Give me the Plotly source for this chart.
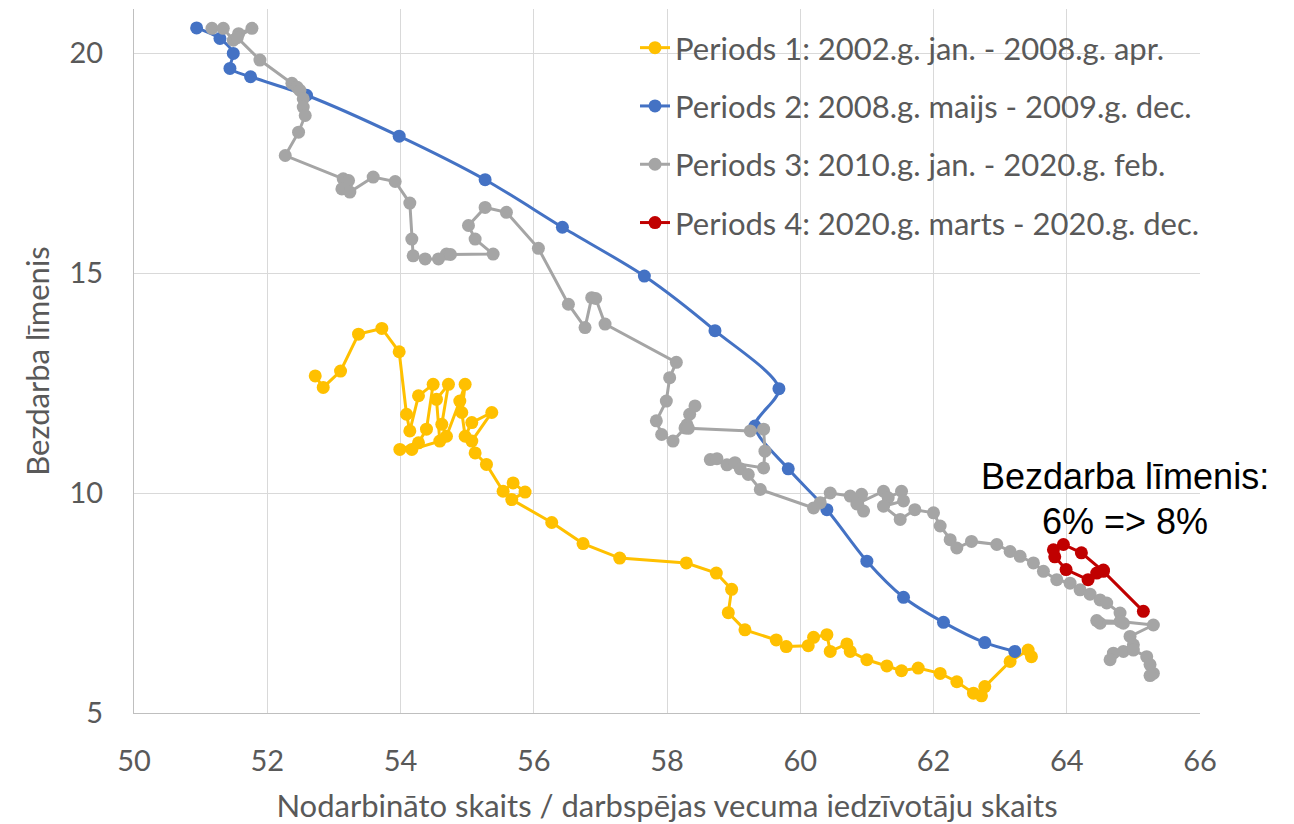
import plotly.graph_objects as go

# ---- Data ----
p1_x = [52.72, 52.84, 53.10, 53.37, 53.72, 53.98, 54.09, 54.14, 54.27, 54.49, 54.39, 54.27,
        53.99, 54.17, 54.59, 54.54, 54.72, 54.62, 54.69, 54.89, 54.97, 54.92, 54.97, 55.07,
        55.37, 55.07, 55.12, 55.29, 55.54, 55.69, 55.87, 55.67, 56.27, 56.74, 57.29, 58.29,
        58.74, 58.97, 58.92, 59.17, 59.64, 59.79, 60.12, 60.20, 60.40, 60.45, 60.70, 60.75,
        61.00, 61.30, 61.52, 61.77, 62.10, 62.35, 62.60, 62.72, 62.77, 63.15, 63.42, 63.47]
p1_y = [12.66, 12.40, 12.77, 13.61, 13.74, 13.21, 11.79, 11.41, 12.21, 12.47, 11.45, 11.14,
        10.99, 10.99, 11.18, 12.13, 12.47, 11.56, 11.29, 12.09, 12.47, 11.83, 11.29, 11.60,
        11.83, 11.18, 10.91, 10.65, 10.04, 10.23, 10.02, 9.85, 9.33, 8.85, 8.52, 8.41,
        8.18, 7.81, 7.28, 6.89, 6.66, 6.51, 6.53, 6.72, 6.78, 6.40, 6.57, 6.40,
        6.21, 6.07, 5.96, 6.02, 5.90, 5.71, 5.45, 5.39, 5.60, 6.17, 6.43, 6.28]

p2_x = [63.22, 62.77, 62.15, 61.55, 61.00, 60.40, 59.82, 59.32, 59.68, 58.72,
        57.66, 56.43, 55.27, 53.98, 52.59, 51.75, 51.44, 51.49, 51.29, 50.94]
p2_y = [6.40, 6.60, 7.06, 7.63, 8.45, 9.62, 10.55, 11.52, 12.37, 13.69,
        14.93, 16.04, 17.12, 18.11, 19.04, 19.46, 19.65, 19.99, 20.33, 20.57]

p3_x = [51.17, 51.34, 51.49, 51.57, 51.77, 51.55, 51.89, 52.37, 52.45, 52.49, 52.54, 52.54,
        52.57, 52.47, 52.27, 53.14, 53.22, 53.12, 53.24, 53.59, 53.92, 54.14, 54.17, 54.19,
        54.37, 54.57, 54.69, 54.75, 55.39, 55.12, 55.02, 55.27, 55.59, 56.07, 56.52, 56.77,
        56.87, 56.93, 57.07, 58.14, 58.04, 57.99, 57.84, 57.92, 58.09, 58.27, 58.34, 58.42,
        58.30, 58.32, 59.25, 59.45, 59.47, 59.45, 58.65, 58.75, 58.90, 59.02, 59.10, 59.22,
        59.40, 60.20, 60.30, 60.45, 60.75, 60.92, 60.95, 60.85, 61.25, 61.32, 61.52, 61.55,
        61.25, 61.50, 61.72, 62.00, 62.10, 62.25, 62.35, 62.57, 62.95, 63.15, 63.30, 63.50,
        63.65, 63.85, 64.05, 64.20, 64.35, 64.50, 64.60, 64.80, 64.85, 64.50, 64.45, 64.80,
        65.30, 64.95, 65.00, 64.70, 64.65, 64.85, 65.00, 65.20, 65.25, 65.30, 65.25]
p3_y = [20.56, 20.56, 20.29, 20.44, 20.56, 20.35, 19.84, 19.31, 19.22, 19.15, 18.96, 18.77,
        18.58, 18.20, 17.67, 17.14, 17.10, 16.91, 16.84, 17.18, 17.08, 16.59, 15.77, 15.39,
        15.32, 15.32, 15.43, 15.42, 15.43, 15.77, 16.08, 16.49, 16.38, 15.56, 14.29, 13.76,
        14.44, 14.42, 13.84, 12.97, 12.62, 12.09, 11.64, 11.33, 11.18, 11.48, 11.79, 11.98,
        11.55, 11.47, 11.41, 11.45, 10.95, 10.57, 10.76, 10.78, 10.64, 10.69, 10.55, 10.42,
        10.08, 9.66, 9.78, 10.00, 9.93, 9.97, 9.59, 9.75, 10.04, 9.89, 10.04, 9.82,
        9.70, 9.40, 9.62, 9.55, 9.25, 8.94, 8.75, 8.90, 8.83, 8.67, 8.56, 8.41,
        8.22, 8.03, 7.95, 7.80, 7.70, 7.57, 7.50, 7.27, 7.04, 7.04, 7.10, 7.08,
        7.00, 6.74, 6.55, 6.36, 6.21, 6.40, 6.43, 6.28, 6.10, 5.90, 5.85]

p4_x = [65.15, 64.55, 64.22, 63.95, 63.80, 63.82, 63.99, 64.32, 64.45, 64.55]
p4_y = [7.31, 8.22, 8.64, 8.83, 8.71, 8.55, 8.26, 8.03, 8.18, 8.25]

names = ["Periods 1: 2002.g. jan. - 2008.g. apr.",
         "Periods 2: 2008.g. maijs - 2009.g. dec.",
         "Periods 3: 2010.g. jan. - 2020.g. feb.",
         "Periods 4: 2020.g. marts - 2020.g. dec."]
colors = ["#FFC000", "#4472C4", "#A5A5A5", "#C00000"]

x_ticks = [50, 52, 54, 56, 58, 60, 62, 64, 66]
y_ticks = [5, 10, 15, 20]

x_title = "Nodarbināto skaits / darbspējas vecuma iedzīvotāju skaits"
y_title = "Bezdarba līmenis"
note_lines = ["Bezdarba līmenis:", "6% => 8%"]

# ---- Figure ----
# page has an 8px body margin, so the figure is 8px smaller than the window
W, H = 1286, 816
L, R, T, B = 126, 94, 1, 111
PW, PH = W - L - R, H - T - B

fig = go.Figure()
series = [(p1_x, p1_y, "linear"), (p2_x, p2_y, "spline"), (p3_x, p3_y, "linear"), (p4_x, p4_y, "linear")]
for i, (xs, ys, shape) in enumerate(series):
    line = dict(color=colors[i], width=3, shape=shape)
    if shape == "spline":
        line["smoothing"] = 0.8
    fig.add_trace(go.Scatter(
        x=xs, y=ys, mode="lines+markers", name=names[i],
        legendgroup="g%d" % i,
        line=line,
        marker=dict(color=colors[i], size=13),
    ))

tick_font = dict(family="Lato, sans-serif", size=29, color="#595959")
title_font = dict(family="Lato, sans-serif", size=31, color="#595959")
note_font = dict(family="Liberation Sans, Arial, sans-serif", size=36, color="black")


def px_to_paper_x(px):
    return (px - 8 - L) / PW


def px_to_paper_y(py):
    return 1 - (py - 8 - T) / PH


fig.update_layout(
    width=W, height=H,
    margin=dict(l=L, r=R, t=T, b=B, autoexpand=False),
    paper_bgcolor="white", plot_bgcolor="white",
    showlegend=True,
    legend=dict(
        x=px_to_paper_x(635), y=px_to_paper_y(21), xanchor="left", yanchor="top",
        font=dict(family="Lato, sans-serif", size=31, color="#595959"),
        bgcolor="rgba(0,0,0,0)", tracegroupgap=15,
    ),
    xaxis=dict(
        range=[50, 66], tickvals=x_ticks, ticktext=[str(v) for v in x_ticks],
        showgrid=True, gridcolor="#D9D9D9", gridwidth=1.3,
        zeroline=False, showline=True, linecolor="#BFBFBF", linewidth=1.3,
        ticks="", tickfont=tick_font, ticklabelstandoff=22,
        title=dict(text=x_title, font=title_font, standoff=19),
        automargin=False, fixedrange=True,
    ),
    yaxis=dict(
        range=[5, 21], tickvals=y_ticks, ticktext=[str(v) for v in y_ticks],
        showgrid=True, gridcolor="#D9D9D9", gridwidth=1.3,
        zeroline=False, showline=True, linecolor="#BFBFBF", linewidth=1.3,
        ticks="", tickfont=tick_font, ticklabelstandoff=24,
        title=dict(text=y_title, font=title_font, standoff=10),
        automargin=False, fixedrange=True,
    ),
    annotations=[
        dict(text=note_lines[0], xref="paper", yref="paper", x=px_to_paper_x(1125), y=px_to_paper_y(476),
             xanchor="center", yanchor="middle", showarrow=False, font=note_font),
        dict(text=note_lines[1], xref="paper", yref="paper", x=px_to_paper_x(1125), y=px_to_paper_y(521),
             xanchor="center", yanchor="middle", showarrow=False, font=note_font),
    ],
)

fig.write_html("out.html", config={"displayModeBar": False})
